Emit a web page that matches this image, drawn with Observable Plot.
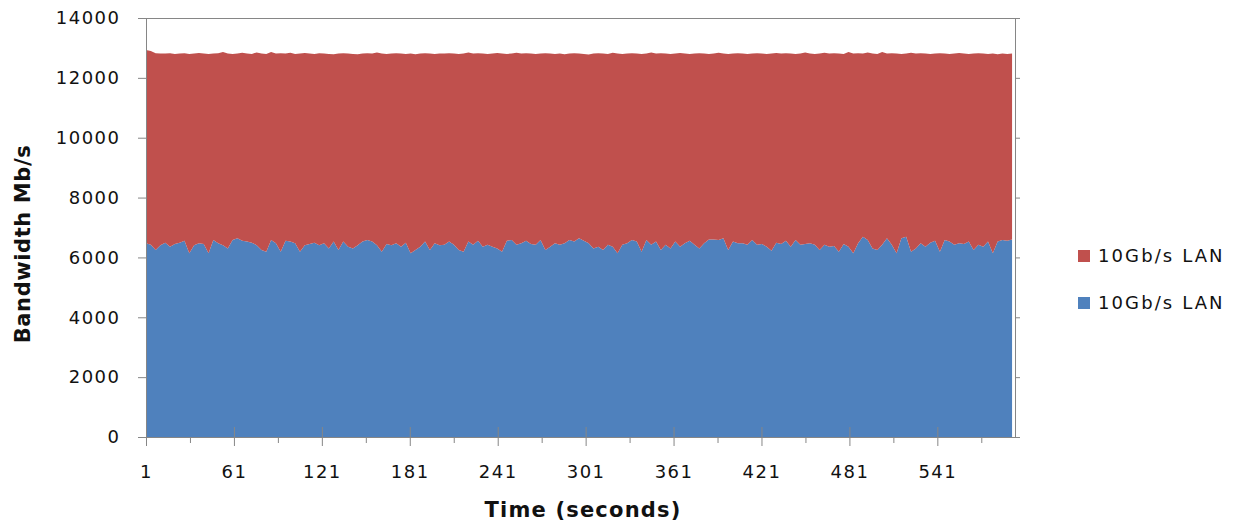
<!DOCTYPE html>
<html>
<head>
<meta charset="utf-8">
<script src="https://cdn.jsdelivr.net/npm/d3@7"></script>
<script src="https://cdn.jsdelivr.net/npm/@observablehq/plot@0.6"></script>
<style>
  html, body { margin: 0; padding: 0; background: #ffffff; }
  #chart { position: relative; width: 1237px; height: 532px; font-family: "DejaVu Sans", sans-serif; color: #111111; }
  #chart svg { position: absolute; left: 0; top: 0; }
  .axis-title { position: absolute; font-weight: bold; font-size: 21px; line-height: 21px; white-space: nowrap; letter-spacing: 0.6px; }
  #xtitle { left: 583px; top: 500px; transform: translateX(-50%); letter-spacing: 1.2px; }
  #ytitle { left: 23px; top: 244px; transform: translate(-50%, -50%) rotate(-90deg); }
  .legend { position: absolute; left: 1078px; font-size: 18px; line-height: 18px; letter-spacing: 2.1px; display: flex; align-items: center; white-space: nowrap; }
  .legend i { display: inline-block; width: 12px; height: 12px; margin-right: 8px; }
</style>
</head>
<body>
<div id="chart"></div>
<script>
// Throughput of the two 10Gb/s LAN links, sampled across the ~10 minute run.
const firstSecond = 1;
const lastSecond = 592;

// Lower link (blue), Mb/s
const lowerLink = [
  6470, 6420, 6250, 6410, 6490, 6360, 6450, 6490, 6560, 6140, 6410, 6470, 6450, 6140, 6580, 6470,
  6410, 6300, 6580, 6640, 6560, 6530, 6490, 6410, 6250, 6190, 6580, 6470, 6190, 6560, 6530, 6470,
  6190, 6410, 6450, 6490, 6410, 6470, 6300, 6530, 6250, 6530, 6360, 6300, 6410, 6530, 6580, 6530,
  6410, 6190, 6450, 6410, 6470, 6360, 6490, 6140, 6250, 6360, 6530, 6250, 6470, 6410,
  6420, 6530, 6420, 6250, 6190, 6530, 6420, 6560, 6360, 6420, 6360, 6300, 6190, 6560, 6580, 6420,
  6470, 6560, 6450, 6420, 6580, 6250, 6360, 6470, 6420, 6470, 6580, 6530, 6640, 6560, 6470, 6300,
  6360, 6250, 6420, 6360, 6140, 6420, 6470, 6580, 6530, 6190, 6580, 6420, 6530, 6250, 6420, 6300,
  6530, 6360, 6470, 6560, 6420, 6300, 6470, 6600, 6600, 6580, 6640, 6250, 6530, 6470,
  6470, 6420, 6580, 6420, 6450, 6360, 6220, 6490, 6450, 6560, 6360, 6580, 6420, 6450, 6470, 6420,
  6250, 6420, 6360, 6380, 6190, 6450, 6360, 6140, 6470, 6690, 6580, 6300, 6250, 6420, 6640, 6420,
  6140, 6640, 6690, 6190, 6300, 6470, 6360, 6490, 6560, 6190, 6580, 6530, 6420, 6470, 6450, 6530,
  6250, 6420, 6360, 6530, 6140, 6530, 6580, 6560, 6600
];

// Upper link (red), Mb/s, stacked on top of the lower link
const upperLink = [
  6460, 6480, 6570, 6400, 6320, 6460, 6350, 6320, 6260, 6660, 6400, 6360, 6360, 6660, 6230, 6350,
  6450, 6510, 6220, 6170, 6280, 6280, 6310, 6440, 6560, 6610, 6280, 6340, 6630, 6250, 6310, 6330,
  6620, 6420, 6360, 6310, 6410, 6340, 6500, 6260, 6560, 6290, 6450, 6500, 6380, 6280, 6240, 6280,
  6440, 6620, 6350, 6400, 6350, 6450, 6310, 6670, 6540, 6450, 6290, 6560, 6330, 6400,
  6390, 6290, 6390, 6550, 6620, 6320, 6390, 6260, 6450, 6380, 6450, 6530, 6620, 6240, 6230, 6420,
  6340, 6260, 6360, 6380, 6230, 6570, 6450, 6330, 6390, 6320, 6230, 6290, 6170, 6240, 6310, 6510,
  6460, 6560, 6380, 6480, 6670, 6380, 6340, 6240, 6280, 6610, 6230, 6430, 6280, 6570, 6390, 6500,
  6280, 6470, 6340, 6240, 6390, 6520, 6340, 6200, 6210, 6260, 6170, 6550, 6280, 6350,
  6340, 6380, 6230, 6400, 6360, 6440, 6590, 6340, 6360, 6260, 6450, 6220, 6390, 6400, 6340, 6380,
  6560, 6420, 6450, 6440, 6620, 6350, 6500, 6670, 6350, 6120, 6270, 6510, 6550, 6440, 6170, 6400,
  6670, 6160, 6120, 6650, 6510, 6350, 6450, 6310, 6250, 6630, 6230, 6270, 6390, 6360, 6360, 6270,
  6560, 6400, 6450, 6270, 6670, 6260, 6230, 6240, 6210
];

const seriesKeys = ["lower", "upper"];
const seriesNames = ["10Gb/s LAN", "10Gb/s LAN"];
const seriesColors = ["#4f81bd", "#c0504d"];

const yTicks = [0, 2000, 4000, 6000, 8000, 10000, 12000, 14000];
const xMajorTicks = [1, 61, 121, 181, 241, 301, 361, 421, 481, 541];
const xMinorTicks = [31, 91, 151, 211, 271, 331, 391, 451, 511, 571];

// Sample times evenly spread over the run
const n = lowerLink.length;
const seconds = lowerLink.map((_, i) => firstSecond + i * (lastSecond - firstSecond) / (n - 1));

const rows = [
  ...lowerLink.map((v, i) => ({t: seconds[i], v, key: seriesKeys[0]})),
  ...upperLink.map((v, i) => ({t: seconds[i], v, key: seriesKeys[1]}))
];

const axisGrey = "#868686";
const blank = () => "";

const plot = Plot.plot({
  width: 1237,
  height: 532,
  marginLeft: 146,
  marginRight: 222,
  marginTop: 18,
  marginBottom: 95,
  style: {fontFamily: "'DejaVu Sans', sans-serif", fontSize: "18px", color: "#111111", background: "transparent", letterSpacing: "1.5px"},
  x: {domain: [1, 594], label: null},
  y: {domain: [0, 14000], label: null},
  color: {domain: seriesKeys, range: seriesColors},
  marks: [
    Plot.areaY(rows, {x: "t", y: "v", fill: "key", order: null}),
    Plot.frame({stroke: axisGrey}),
    Plot.axisY(yTicks, {anchor: "left", tickSize: 8, tickPadding: 18, tickFormat: d3.format("d"), stroke: axisGrey, label: null}),
    Plot.axisY(yTicks, {anchor: "right", tickSize: 4, tickFormat: blank, stroke: axisGrey, label: null}),
    Plot.axisX(xMajorTicks, {anchor: "bottom", tickSize: 19, dy: -10, tickFormat: blank, stroke: axisGrey, label: null}),
    Plot.axisX(xMinorTicks, {anchor: "bottom", tickSize: 6, tickFormat: blank, stroke: axisGrey, label: null}),
    Plot.axisX(xMajorTicks, {anchor: "bottom", tickSize: 0, tickPadding: 28, tickFormat: d3.format("d"), label: null})
  ]
});

const root = document.getElementById("chart");
root.appendChild(plot);

const xt = document.createElement("div");
xt.className = "axis-title";
xt.id = "xtitle";
xt.textContent = "Time (seconds)";
root.appendChild(xt);

const yt = document.createElement("div");
yt.className = "axis-title";
yt.id = "ytitle";
yt.textContent = "Bandwidth Mb/s";
root.appendChild(yt);

// Legend: upper series listed first, as stacked
const legendTops = [247, 294];
[1, 0].forEach((k, j) => {
  const item = document.createElement("div");
  item.className = "legend";
  item.style.top = legendTops[j] + "px";
  const sw = document.createElement("i");
  sw.style.background = seriesColors[k];
  item.appendChild(sw);
  item.appendChild(document.createTextNode(seriesNames[k]));
  root.appendChild(item);
});
</script>
</body>
</html>
